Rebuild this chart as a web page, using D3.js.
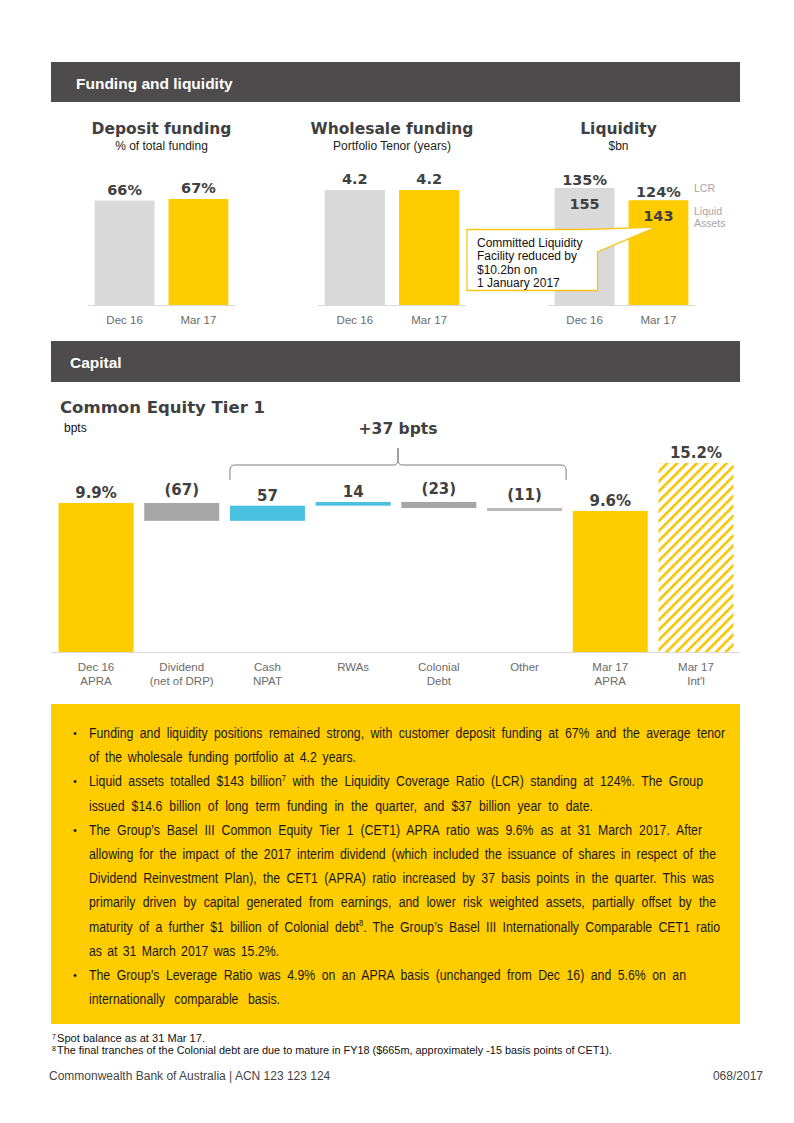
<!DOCTYPE html>
<html>
<head>
<meta charset="utf-8">
<script src="https://cdn.jsdelivr.net/npm/d3@7"></script>
<style>
  body { margin: 0; background: #fff; }
  svg { display: block; }
</style>
</head>
<body>
<div id="page"></div>
<script>
// Funding and liquidity
const fundingPeriods = ["Dec 16", "Mar 17"];
const depositFunding = [66, 67];
const wholesaleTenor = [4.2, 4.2];
const liquidAssets = [155, 143];
const lcrRatio = [135, 124];

// Capital - CET1 waterfall
const cet1Categories = [["Dec 16", "APRA"], ["Dividend", "(net of DRP)"], ["Cash", "NPAT"], ["RWAs"],
  ["Colonial", "Debt"], ["Other"], ["Mar 17", "APRA"], ["Mar 17", "Int'l"]];
const cet1Start = 9.9;
const cet1Moves = [-67, 57, 14, -23, -11];
const cet1End = 9.6;
const cet1Intl = 15.2;
const cet1Quarter = 37;

const bulletLines = [
  ["Funding and liquidity positions remained strong, with customer deposit funding at 67% and the average tenor",
   "of the wholesale funding portfolio at 4.2 years."],
  ["Liquid assets totalled $143 billion{7} with the Liquidity Coverage Ratio (LCR) standing at 124%. The Group",
   "issued $14.6 billion of long term funding in the quarter, and $37 billion year to date."],
  ["The Group\u2019s Basel III Common Equity Tier 1 (CET1) APRA ratio was 9.6% as at 31 March 2017. After",
   "allowing for the impact of the 2017 interim dividend (which included the issuance of shares in respect of the",
   "Dividend Reinvestment Plan), the CET1 (APRA) ratio increased by 37 basis points in the quarter. This was",
   "primarily driven by capital generated from earnings, and lower risk weighted assets, partially offset by the",
   "maturity of a further $1 billion of Colonial debt{8}. The Group\u2019s Basel III Internationally Comparable CET1 ratio",
   "as at 31 March 2017 was 15.2%."],
  ["The Group\u2019s Leverage Ratio was 4.9% on an APRA basis (unchanged from Dec 16) and 5.6% on an",
   "internationally comparable basis."]
];
// line widths in the reference (px)
const bulletWidths = [[636, 267], [614, 504], [613, 627, 625, 627, 631, 190], [597, 191]];

const footnotes = [
  ["7", "Spot balance as at 31 Mar 17."],
  ["8", "The final tranches of the Colonial  debt are due to mature in FY18 ($665m, approximately -15 basis points of CET1)."]
];
const footnoteWidths = [148, 555];

const yellow = "#ffcc00";
const lightGray = "#d9d9d9";
const titleColor = "#404040";
const narrow = "'Liberation Sans Narrow', 'Arial Narrow', 'Liberation Sans', Arial, sans-serif";
const heavy = "'DejaVu Sans', 'Liberation Sans', Arial, sans-serif";
const squeeze = 0.82;

const svg = d3.select("#page").append("svg")
  .attr("width", 794).attr("height", 1123)
  .attr("viewBox", [0, 0, 794, 1123]);

const defs = svg.append("defs");
const hatch = defs.append("pattern")
  .attr("id", "hatch")
  .attr("patternUnits", "userSpaceOnUse")
  .attr("width", 7).attr("height", 7)
  .attr("patternTransform", "rotate(45)");
hatch.append("rect").attr("width", 7).attr("height", 7).attr("fill", "#fff");
hatch.append("rect").attr("x", 0).attr("width", 2.6).attr("height", 7).attr("fill", "#f7c500");

// section headers
function header(y, h, x, label) {
  svg.append("rect").attr("x", 51).attr("y", y).attr("width", 689).attr("height", h).attr("fill", "#4d4b4c");
  svg.append("text").attr("x", x).attr("y", y + 27)
    .attr("font-family", narrow).attr("font-weight", "bold").attr("font-size", 15.5)
    .attr("fill", "#fff").text(label);
}
header(62, 40, 76, "Funding and liquidity");
header(341, 41, 70, "Capital");

// small bar charts
function smallChart(opt) {
  const x = d3.scaleBand().domain(fundingPeriods).range(opt.range).paddingInner(0.19).paddingOuter(0.09);
  const y = d3.scaleLinear().domain(opt.domain).range([305, opt.top]);
  const cx = (opt.range[0] + opt.range[1]) / 2 + (opt.titleShift || 0);
  const g = svg.append("g");

  g.append("text").attr("x", cx).attr("y", 134).attr("text-anchor", "middle")
    .attr("font-family", heavy).attr("font-weight", "bold").attr("font-size", 15.5)
    .attr("fill", titleColor).text(opt.title);
  g.append("text").attr("x", cx).attr("y", 150).attr("text-anchor", "middle")
    .attr("font-family", narrow).attr("font-size", 12)
    .attr("fill", "#222").text(opt.subtitle);

  g.selectAll("rect.bar").data(opt.values).join("rect")
    .attr("class", "bar")
    .attr("x", (d, i) => x(fundingPeriods[i]))
    .attr("y", d => y(d))
    .attr("width", x.bandwidth())
    .attr("height", d => 305 - y(d))
    .attr("fill", (d, i) => i === 0 ? lightGray : yellow);

  g.append("line").attr("x1", opt.range[0]).attr("x2", opt.range[1])
    .attr("y1", 305.5).attr("y2", 305.5).attr("stroke", "#d9d9d9").attr("stroke-width", 1);

  g.selectAll("text.xl").data(fundingPeriods).join("text")
    .attr("class", "xl")
    .attr("x", d => x(d) + x.bandwidth() / 2).attr("y", 324)
    .attr("text-anchor", "middle").attr("font-family", narrow).attr("font-size", 11.5)
    .attr("fill", "#6b6b6b").text(d => d);

  return { x, y, g };
}

function valueLabels(c, cls, data, yPos, fmt) {
  c.g.selectAll("text." + cls).data(data).join("text")
    .attr("class", cls)
    .attr("x", (d, i) => c.x(fundingPeriods[i]) + c.x.bandwidth() / 2)
    .attr("y", yPos)
    .attr("text-anchor", "middle").attr("font-family", heavy).attr("font-weight", "bold")
    .attr("font-size", 14.5).attr("fill", titleColor).text(fmt);
}

const dep = smallChart({ title: "Deposit funding", subtitle: "% of total funding",
  range: [88, 235], domain: [0, 67], top: 199, values: depositFunding });
valueLabels(dep, "vl", depositFunding, d => dep.y(d) - 6, d => d + "%");

const whs = smallChart({ title: "Wholesale funding", subtitle: "Portfolio Tenor (years)",
  range: [318, 466], domain: [0, 4.2], top: 190, values: wholesaleTenor });
valueLabels(whs, "vl", wholesaleTenor, d => whs.y(d) - 6, d => d.toFixed(1));

const liq = smallChart({ title: "Liquidity", subtitle: "$bn",
  range: [548, 695], domain: [40, 155], top: 188, values: liquidAssets, titleShift: -3 });
valueLabels(liq, "lcr", lcrRatio, (d, i) => liq.y(liquidAssets[i]) - 3, d => d + "%");
valueLabels(liq, "la", liquidAssets, d => liq.y(d) + 21, d => d);
liq.g.append("text").attr("x", 694).attr("y", 192)
  .attr("font-family", narrow).attr("font-size", 10.5).attr("fill", "#a6a6a6").text("LCR");
liq.g.append("text").attr("x", 694).attr("y", 215)
  .attr("font-family", narrow).attr("font-size", 10.5).attr("fill", "#a6a6a6")
  .selectAll("tspan").data(["Liquid", "Assets"]).join("tspan")
  .attr("x", 694).attr("dy", (d, i) => i ? 11.5 : 0).text(d => d);

// callout
const tipX = liq.x("Mar 17") + liq.x.bandwidth() / 2 - 2, tipY = liq.y(liquidAssets[1]) + 27;
svg.append("path")
  .attr("d", `M467,229.5 L585,229.5 L${tipX},${tipY} L597.5,252 L597.5,290.5 L467,290.5 Z`)
  .attr("fill", "#fff").attr("stroke", "#f5c518").attr("stroke-width", 1.3);
svg.append("text").attr("font-family", narrow).attr("font-size", 12).attr("fill", "#111")
  .selectAll("tspan").data(["Committed Liquidity", "Facility reduced by", "$10.2bn on", "1 January 2017"])
  .join("tspan").attr("x", 477).attr("y", (d, i) => 247 + i * 13.3).text(d => d);

// CET1 waterfall
svg.append("text").attr("x", 60).attr("y", 413)
  .attr("font-family", heavy).attr("font-weight", "bold").attr("font-size", 16.5)
  .attr("fill", titleColor).text("Common Equity Tier 1");
svg.append("text").attr("x", 64).attr("y", 432)
  .attr("font-family", narrow).attr("font-size", 12).attr("fill", "#111").text("bpts");

const catKeys = cet1Categories.map(d => d.join(" "));
const xw = d3.scaleBand().domain(catKeys).range([51, 741]).paddingInner(0.125).paddingOuter(0.088);
const yw = d3.scaleLinear().domain([4.3, 9.9]).range([652, 503]);
const yIntl = d3.scaleLinear().domain([0, 16]).range([652, 453]);

let level = cet1Start;
const wfBars = [{ key: catKeys[0], lo: yw.domain()[0], hi: cet1Start, label: cet1Start.toFixed(1) + "%", fill: yellow, y: yw }];
const moveColors = ["#a6a6a6", "#4bc1e0", "#4bc1e0", "#a6a6a6", "#b8b8b8"];
cet1Moves.forEach((m, i) => {
  const next = level + m / 100;
  wfBars.push({ key: catKeys[i + 1], lo: Math.min(level, next), hi: Math.max(level, next),
    label: m < 0 ? `(${-m})` : String(m), fill: moveColors[i], y: yw });
  level = next;
});
wfBars.push({ key: catKeys[6], lo: yw.domain()[0], hi: cet1End, label: cet1End.toFixed(1) + "%", fill: yellow, y: yw });
wfBars.push({ key: catKeys[7], lo: 0, hi: cet1Intl, label: cet1Intl.toFixed(1) + "%", fill: "url(#hatch)", y: yIntl });

const wg = svg.append("g");
wg.selectAll("rect").data(wfBars).join("rect")
  .attr("x", d => xw(d.key))
  .attr("y", d => d.y(d.hi))
  .attr("width", xw.bandwidth())
  .attr("height", d => Math.max(2.5, d.y(d.lo) - d.y(d.hi)))
  .attr("fill", d => d.fill);
wg.selectAll("text.vl").data(wfBars).join("text")
  .attr("class", "vl")
  .attr("x", d => xw(d.key) + xw.bandwidth() / 2)
  .attr("y", d => d.y(d.hi) - (d.label.startsWith("(") ? 8 : 5))
  .attr("text-anchor", "middle").attr("font-family", heavy).attr("font-weight", "bold")
  .attr("font-size", 15).attr("fill", titleColor).text(d => d.label);

wg.append("line").attr("x1", 51).attr("x2", 740).attr("y1", 652.5).attr("y2", 652.5)
  .attr("stroke", "#d9d9d9").attr("stroke-width", 1.2);

wg.selectAll("text.xl").data(cet1Categories).join("text")
  .attr("class", "xl")
  .attr("font-family", narrow).attr("font-size", 11.5).attr("fill", "#6b6b6b")
  .attr("text-anchor", "middle")
  .each(function (d, i) {
    const cx = xw(catKeys[i]) + xw.bandwidth() / 2;
    d3.select(this).selectAll("tspan").data(d).join("tspan")
      .attr("x", cx).attr("y", (t, j) => 671 + j * 14).text(t => t);
  });

// bracket over the quarter moves
const bx0 = xw(catKeys[2]), bx1 = xw(catKeys[5]) + xw.bandwidth() + 4;
const bmid = (bx0 + bx1) / 2, by = 465;
svg.append("path")
  .attr("d", `M${bx0},480 L${bx0},${by + 5} Q${bx0},${by} ${bx0 + 5},${by} L${bmid - 4},${by}
    Q${bmid},${by} ${bmid},${by - 6} L${bmid},${by - 17} L${bmid},${by - 6} Q${bmid},${by} ${bmid + 4},${by}
    L${bx1 - 5},${by} Q${bx1},${by} ${bx1},${by + 5} L${bx1},480`)
  .attr("fill", "none").attr("stroke", "#7f7f7f").attr("stroke-width", 1);
svg.append("text").attr("x", bmid).attr("y", 434).attr("text-anchor", "middle")
  .attr("font-family", heavy).attr("font-weight", "bold").attr("font-size", 15.5)
  .attr("fill", titleColor).text(`+${cet1Quarter} bpts`);

// text with {n} superscripts
function richLine(t, line) {
  line.split(/(\{\d\})/).filter(s => s).forEach(seg => {
    const m = seg.match(/^\{(\d)\}$/);
    if (m) {
      t.append("tspan").attr("font-size", "0.62em").attr("baseline-shift", "super").text(m[1]);
    } else {
      t.append("tspan").text(seg);
    }
  });
}

// commentary box
svg.append("rect").attr("x", 51).attr("y", 704).attr("width", 689).attr("height", 320).attr("fill", yellow);
let lineY = 738;
const tb = svg.append("g").attr("font-family", narrow).attr("font-size", 15).attr("fill", "#1a1a1a");
bulletLines.forEach((para, p) => {
  tb.append("text").attr("x", 73).attr("y", lineY - 1).attr("font-size", 11).text("\u2022");
  para.forEach((line, l) => {
    const t = tb.append("text").attr("transform", `translate(89,${lineY}) scale(${squeeze},1)`);
    richLine(t, line);
    // spread the words to the reference line width
    const natural = t.node().getComputedTextLength();
    const gaps = (line.match(/ /g) || []).length;
    const target = bulletWidths[p][l] / squeeze;
    if (gaps) t.attr("word-spacing", (target - natural) / gaps);
    lineY += 24.2;
  });
});

// footnotes
const fn = svg.append("g").attr("font-family", narrow).attr("font-size", 10).attr("fill", "#111");
footnotes.forEach((f, i) => {
  fn.append("text").attr("x", 52).attr("y", 1039 + i * 12).attr("font-size", 7).text(f[0]);
  fn.append("text").attr("x", 57).attr("y", 1042 + i * 12)
    .attr("textLength", footnoteWidths[i]).attr("lengthAdjust", "spacingAndGlyphs").text(f[1]);
});

// footer
svg.append("text").attr("x", 49).attr("y", 1080)
  .attr("font-family", narrow).attr("font-size", 12).attr("fill", "#444")
  .text("Commonwealth Bank of Australia | ACN  123 123 124");
svg.append("text").attr("x", 763).attr("y", 1080).attr("text-anchor", "end")
  .attr("font-family", narrow).attr("font-size", 12).attr("fill", "#444")
  .text("068/2017");
</script>
</body>
</html>
